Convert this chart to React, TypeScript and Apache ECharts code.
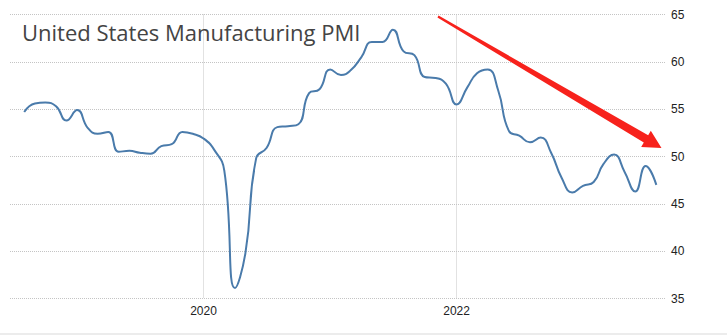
import React, { useEffect, useRef } from "react";
import * as echarts from "echarts";

const months: string[] = [
  "2018-08", "2018-09", "2018-10", "2018-11", "2018-12",
  "2019-01", "2019-02", "2019-03", "2019-04", "2019-05", "2019-06", "2019-07", "2019-08", "2019-09", "2019-10", "2019-11", "2019-12",
  "2020-01", "2020-02", "2020-03", "2020-04", "2020-05", "2020-06", "2020-07", "2020-08", "2020-09", "2020-10", "2020-11", "2020-12",
  "2021-01", "2021-02", "2021-03", "2021-04", "2021-05", "2021-06", "2021-07", "2021-08", "2021-09", "2021-10", "2021-11", "2021-12",
  "2022-01", "2022-02", "2022-03", "2022-04", "2022-05", "2022-06", "2022-07", "2022-08", "2022-09", "2022-10", "2022-11", "2022-12",
  "2023-01", "2023-02", "2023-03", "2023-04", "2023-05", "2023-06", "2023-07", "2023-08",
];

const pmiValues: number[] = [
  54.7, 55.6, 55.7, 55.3, 53.8,
  54.9, 53.0, 52.4, 52.6, 50.5, 50.6, 50.4, 50.3, 51.1, 51.3, 52.6, 52.4,
  51.9, 50.7, 48.5, 36.1, 39.8, 49.8, 50.9, 53.1, 53.2, 53.4, 56.7, 57.1,
  59.2, 58.6, 59.1, 60.5, 62.1, 62.1, 63.4, 61.1, 60.7, 58.4, 58.3, 57.7,
  55.5, 57.3, 58.8, 59.2, 57.0, 52.7, 52.2, 51.5, 52.0, 50.4, 47.7, 46.2,
  46.9, 47.3, 49.2, 50.2, 48.4, 46.3, 49.0, 47.0,
];

const xTickYears: number[] = [2020, 2022];
const yTicks: number[] = [35, 40, 45, 50, 55, 60, 65];
const titleText = "United States Manufacturing PMI";

const toTime = (s: string) => {
  const [y, m] = s.split("-").map(Number);
  return new Date(y, m - 1, 1).getTime();
};

export default function App() {
  const ref = useRef<HTMLDivElement>(null);

  useEffect(() => {
    if (!ref.current) return;
    const chart = echarts.init(ref.current, undefined, { renderer: "svg" });

    const data = months.map((m, i) => [toTime(m), pmiValues[i]]);
    const yearTicks = xTickYears.map((y) => new Date(y, 0, 1).getTime());

    // Red trend arrow (annotation)
    const tail = [438, 16.5];
    const tip = [661.5, 148];
    const dx = tip[0] - tail[0];
    const dy = tip[1] - tail[1];
    const len = Math.sqrt(dx * dx + dy * dy);
    const ux = dx / len, uy = dy / len;
    const nx = -uy, ny = ux;
    const headLen = 18, headHalf = 9.5, w0 = 1.1, w1 = 4.3;
    const bx = tip[0] - headLen * ux, by = tip[1] - headLen * uy;
    const arrowPts = [
      [tail[0] + w0 * nx, tail[1] + w0 * ny],
      [bx + w1 * nx, by + w1 * ny],
      [bx + headHalf * nx, by + headHalf * ny],
      [tip[0], tip[1]],
      [bx - headHalf * nx, by - headHalf * ny],
      [bx - w1 * nx, by - w1 * ny],
      [tail[0] - w0 * nx, tail[1] - w0 * ny],
    ];

    const axisFont = '"Liberation Sans Narrow", "Arial Narrow", "Liberation Sans", Arial, sans-serif';

    chart.setOption({
      animation: false,
      backgroundColor: "#ffffff",
      grid: { left: 10, right: 62, top: 14.5, bottom: 36.5, containLabel: false },
      xAxis: {
        type: "value",
        min: new Date(2018, 5, 21).getTime(),
        max: new Date(2023, 7, 26).getTime(),
        axisLine: { show: false },
        axisTick: { show: false, customValues: yearTicks },
        axisLabel: {
          customValues: yearTicks,
          formatter: (v: number) => String(new Date(v).getFullYear()),
          color: "#222",
          fontSize: 12,
          fontFamily: axisFont,
          margin: 6,
        },
        splitLine: { show: true, lineStyle: { type: "dotted", color: "#c4c4c4", width: 1 } },
      },
      yAxis: {
        type: "value",
        position: "right",
        min: yTicks[0],
        max: yTicks[yTicks.length - 1],
        interval: 5,
        axisLine: { show: false },
        axisTick: { show: false },
        axisLabel: { color: "#222", fontSize: 12, fontFamily: axisFont, margin: 6 },
        splitLine: { show: true, lineStyle: { type: "dotted", color: "#c4c4c4", width: 1 } },
      },
      series: [
        {
          type: "line",
          data,
          smooth: 0.5,
          showSymbol: false,
          symbol: "none",
          lineStyle: { color: "#4a7bab", width: 2 },
          itemStyle: { color: "#4a7bab" },
          z: 3,
        },
      ],
      graphic: [
        {
          type: "text",
          x: 22,
          y: 21,
          style: {
            text: titleText,
            fill: "#444444",
            font: '22px "Open Sans", "Noto Sans", sans-serif',
          },
          z: 10,
        },
        {
          type: "polygon",
          shape: { points: arrowPts },
          style: { fill: "#f7221c" },
          z: 20,
        },
        {
          type: "rect",
          shape: { x: 0, y: 333, width: 727, height: 2 },
          style: { fill: "#ececec" },
          z: 1,
        },
      ],
    });

    return () => chart.dispose();
  }, []);

  return (
    <div
      ref={ref}
      style={{ position: "fixed", left: 0, top: 0, width: 727, height: 335, background: "#fff" }}
    />
  );
}
